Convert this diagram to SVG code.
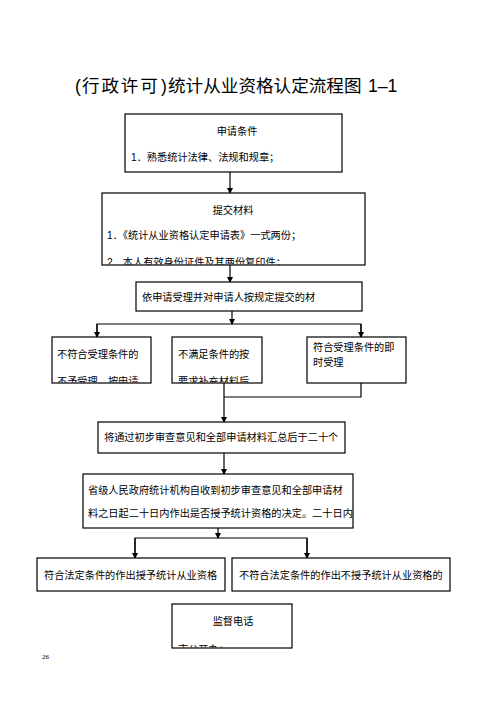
<svg xmlns="http://www.w3.org/2000/svg" width="496" height="702" viewBox="0 0 496 702">
<style>
.bx{fill:#fff;stroke:#000;stroke-width:1.2}
.t{font-family:"Liberation Sans","Noto Sans CJK SC",sans-serif;font-size:10.2px;fill:#000;dominant-baseline:central}
.c{text-anchor:middle}
.ln{fill:none;stroke:#000;stroke-width:1.2}
.ttl{font-family:"Liberation Sans","Noto Sans CJK SC",sans-serif;font-size:17.6px;fill:#000}
</style>
<defs>
<marker id="ah" markerWidth="6" markerHeight="6" refX="5" refY="3" orient="auto" markerUnits="userSpaceOnUse">
<path d="M0,0 L6,3 L0,6 Z" fill="#000"/>
</marker>
<clipPath id="k2"><rect x="102" y="193" width="263" height="71.5"/></clipPath>
<clipPath id="k4"><rect x="52" y="337" width="99" height="45.5"/></clipPath>
<clipPath id="k5"><rect x="172" y="337" width="90" height="45.5"/></clipPath>
<clipPath id="k11"><rect x="172" y="604" width="120" height="43.5"/></clipPath>
</defs>
<rect width="496" height="702" fill="#fff"/>
<text class="ttl" y="92"><tspan x="75">(</tspan><tspan x="82" letter-spacing="1.8">行政许可</tspan><tspan x="161">)</tspan><tspan x="168">统计从业资格认定流程图</tspan><tspan x="368">1–1</tspan></text>

<g id="connectors">
<line class="ln" x1="230" y1="172" x2="230" y2="193" marker-end="url(#ah)"/>
<line class="ln" x1="230" y1="265" x2="230" y2="282" marker-end="url(#ah)"/>
<line class="ln" x1="232" y1="311" x2="232" y2="324" marker-end="url(#ah)"/>
<polyline class="ln" points="97,337 97,324 361,324 361,337"/>
<line class="ln" x1="97" y1="324" x2="97" y2="337" marker-end="url(#ah)"/>
<line class="ln" x1="361" y1="324" x2="361" y2="337" marker-end="url(#ah)"/>
<polyline class="ln" points="361,383 361,397 224,397"/>
<line class="ln" x1="224" y1="383" x2="224" y2="422" marker-end="url(#ah)"/>
<line class="ln" x1="224" y1="453" x2="224" y2="474" marker-end="url(#ah)"/>
<line class="ln" x1="218" y1="528" x2="218" y2="538" marker-end="url(#ah)"/>
<polyline class="ln" points="135,558 135,538 307,538 307,558"/>
<line class="ln" x1="135" y1="538" x2="135" y2="558" marker-end="url(#ah)"/>
<line class="ln" x1="307" y1="538" x2="307" y2="558" marker-end="url(#ah)"/>
</g>

<g id="n1">
<rect class="bx" x="125" y="114" width="217" height="58"/>
<text class="t c" x="237" y="131">申请条件</text>
<text class="t" x="131" y="157">1．熟悉统计法律、法规和规章；</text>
</g>
<g id="n2">
<rect class="bx" x="102" y="193" width="263" height="72"/>
<g clip-path="url(#k2)">
<text class="t c" x="233" y="210">提交材料</text>
<text class="t" x="107" y="235">1．《统计从业资格认定申请表》一式两份；</text>
<text class="t" x="107" y="262">2．本人有效身份证件及其两份复印件；</text>
</g>
</g>
<g id="n3">
<rect class="bx" x="136" y="282" width="226" height="29"/>
<text class="t" x="142" y="297">依申请受理并对申请人按规定提交的材</text>
</g>
<g id="n4">
<rect class="bx" x="52" y="337" width="99" height="46"/>
<g clip-path="url(#k4)">
<text class="t" x="57" y="354">不符合受理条件的</text>
<text class="t" x="57" y="381">不予受理，按申请</text>
</g>
</g>
<g id="n5">
<rect class="bx" x="172" y="337" width="90" height="46"/>
<g clip-path="url(#k5)">
<text class="t" x="178" y="354">不满足条件的按</text>
<text class="t" x="178" y="381">要求补充材料后</text>
</g>
</g>
<g id="n6">
<rect class="bx" x="307" y="337" width="99" height="46"/>
<text class="t" x="313" y="347">符合受理条件的即</text>
<text class="t" x="313" y="362">时受理</text>
</g>
<g id="n7">
<rect class="bx" x="98" y="422" width="247" height="31"/>
<text class="t" x="104" y="437">将通过初步审查意见和全部申请材料汇总后于二十个</text>
</g>
<g id="n8">
<rect class="bx" x="83" y="474" width="270" height="54"/>
<text class="t" x="88" y="490">省级人民政府统计机构自收到初步审查意见和全部申请材</text>
<text class="t" x="88" y="513">料之日起二十日内作出是否授予统计资格的决定。二十日内</text>
</g>
<g id="n9">
<rect class="bx" x="37" y="558" width="188" height="33"/>
<text class="t" x="44" y="575">符合法定条件的作出授予统计从业资格</text>
</g>
<g id="n10">
<rect class="bx" x="232" y="558" width="218" height="33"/>
<text class="t" x="239" y="575">不符合法定条件的作出不授予统计从业资格的</text>
</g>
<g id="n11">
<rect class="bx" x="172" y="604" width="120" height="44"/>
<g clip-path="url(#k11)">
<text class="t c" x="233" y="621">监督电话</text>
<text class="t" x="178" y="649">市公开办：</text>
</g>
</g>
<text x="42" y="659" style="font-family:'Liberation Serif',serif;font-size:7px">26</text>
</svg>
